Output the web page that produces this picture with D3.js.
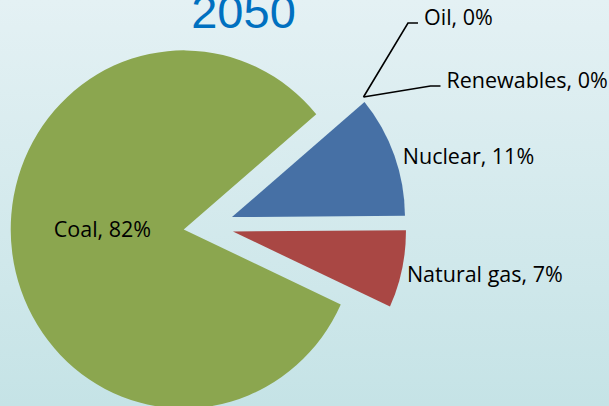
<!DOCTYPE html>
<html>
<head>
<meta charset="utf-8">
<script src="https://cdn.jsdelivr.net/npm/d3@7"></script>
<style>
  html, body { margin: 0; padding: 0; }
  svg { display: block; }
</style>
</head>
<body>
<svg id="chart" width="609" height="406"></svg>
<script>
// Electricity generation mix, 2050 scenario
const title = "2050";
const categories = ["Oil", "Renewables", "Nuclear", "Natural gas", "Coal"];
const shares = [0, 0, 11, 7, 82];
const sliceColors = ["#7f7f7f", "#4bacc6", "#4670a5", "#a94744", "#8ba64f"];

const W = 609, H = 406;
const svg = d3.select("#chart");

// soft blue-green backdrop
const defs = svg.append("defs");
const grad = defs.append("linearGradient")
  .attr("id", "bg").attr("x1", 0).attr("y1", 0).attr("x2", 0).attr("y2", 1);
grad.append("stop").attr("offset", 0).attr("stop-color", "#e4f1f4");
grad.append("stop").attr("offset", 1).attr("stop-color", "#c5e3e6");
svg.append("rect").attr("width", W).attr("height", H).attr("fill", "url(#bg)");

const data = categories.map((c, i) => ({ name: c, value: shares[i], color: sliceColors[i] }));

const rad = Math.PI / 180;
const start = 50 * rad;
const pie = d3.pie().sort(null).value(d => d.value)
  .startAngle(start).endAngle(start + 2 * Math.PI);
const arcs = pie(data);

const cx = 208.5, cy = 226, R = 173, yStretch = 1.035, explode = 25;
const arc = d3.arc().innerRadius(0).outerRadius(R);

const g = svg.append("g")
  .attr("transform", `translate(${cx},${cy}) scale(1,${yStretch})`);

const dir = a => [Math.sin(a), -Math.cos(a)];
const mid = d => (d.startAngle + d.endAngle) / 2;

g.selectAll("path.slice")
  .data(arcs.filter(d => d.value > 0))
  .join("path")
  .attr("class", "slice")
  .attr("d", arc)
  .attr("fill", d => d.data.color)
  .attr("transform", d => {
    const [ux, uy] = dir(mid(d));
    return `translate(${ux * explode},${uy * explode})`;
  });

// screen position of a point at radius r along angle a, with slice explosion
function toScreen(a, r) {
  const [ux, uy] = dir(a);
  return [cx + ux * (r + explode), cy + uy * (r + explode) * yStretch];
}

const font = "'Open Sans', sans-serif";
const fs = 21.5;

// title
svg.append("text")
  .attr("x", 243.5).attr("y", 28)
  .attr("text-anchor", "middle")
  .attr("font-family", "'Liberation Sans', Arial, sans-serif")
  .attr("font-size", 47)
  .attr("fill", "#0070c0")
  .text(title);

const fmt = d => `${d.data.name}, ${Math.round(d.value)}%`;

// labels for the visible slices
const labelRule = {
  "Nuclear":     d => { const p = toScreen(mid(d), R + 9); return [p[0], p[1] + 12, "start"]; },
  "Natural gas": d => { const p = toScreen(mid(d), R + 5); return [p[0], p[1] + 12, "start"]; },
  "Coal":        d => { const p = toScreen(mid(d), 82);    return [p[0], cy + 11, "middle"]; }
};

arcs.filter(d => d.value > 0).forEach(d => {
  const [x, y, anchor] = labelRule[d.data.name](d);
  svg.append("text")
    .attr("x", x).attr("y", y)
    .attr("text-anchor", anchor)
    .attr("font-family", font).attr("font-size", fs)
    .attr("fill", "#000")
    .text(fmt(d));
});

// outer tip of the first visible slice, where zero-value slices sit
const firstSlice = arcs.find(d => d.value > 0);
const [mx, my] = dir(mid(firstSlice));
const [sx, sy] = dir(firstSlice.startAngle);
const tip = [cx + mx * explode + sx * R, cy + (my * explode + sy * R) * yStretch];

// zero-value slices get leader lines from just above that tip
const leaderBends = { "Oil": [[44.5, -74], [54.5, -74]], "Renewables": [[67, -11], [77, -11]] };
arcs.filter(d => d.value === 0).forEach(d => {
  const p0 = [tip[0] - 1, tip[1] - 5];
  const bends = leaderBends[d.data.name].map(([dx, dy]) => [p0[0] + dx, p0[1] + dy]);
  const pts = [p0, ...bends];
  svg.append("path")
    .attr("d", d3.line()(pts))
    .attr("fill", "none").attr("stroke", "#000").attr("stroke-width", 1.6);
  const last = pts[pts.length - 1];
  svg.append("text")
    .attr("x", last[0] + 6).attr("y", last[1] + 2)
    .attr("font-family", font).attr("font-size", fs)
    .attr("fill", "#000")
    .text(fmt(d));
});
</script>
</body>
</html>
